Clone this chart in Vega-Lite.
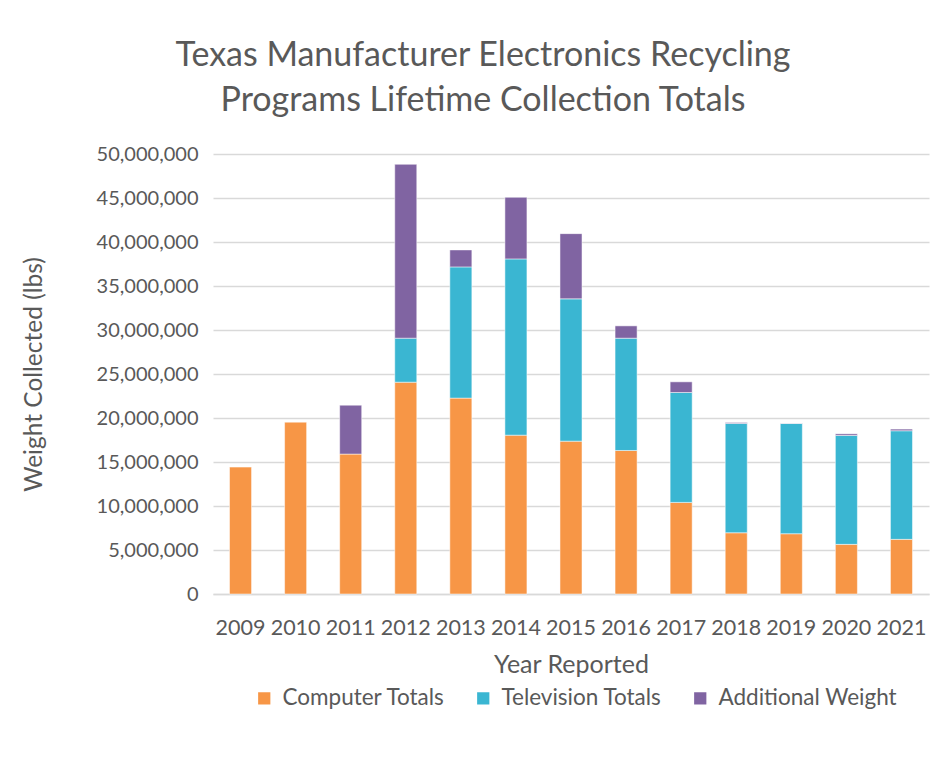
{
  "$schema": "https://vega.github.io/schema/vega-lite/v6.json",
  "autosize": {"type": "none"},
  "padding": {"left": 213, "top": 154, "right": 17, "bottom": 175},
  "width": 716,
  "height": 440,
  "background": "white",
  "title": {
    "text": ["Texas Manufacturer Electronics Recycling", "Programs Lifetime Collection Totals"],
    "anchor": "middle",
    "dx": -88,
    "fontSize": 34,
    "font": "Lato",
    "fontWeight": "normal",
    "color": "#595959",
    "lineHeight": 45,
    "offset": 26
  },
  "data": {
    "values": [
      {"year": "2009", "series": "Computer Totals", "ord": 1, "value": 14420000},
      {"year": "2010", "series": "Computer Totals", "ord": 1, "value": 19530000},
      {"year": "2011", "series": "Computer Totals", "ord": 1, "value": 15900000},
      {"year": "2011", "series": "Additional Weight", "ord": 3, "value": 5560000},
      {"year": "2012", "series": "Computer Totals", "ord": 1, "value": 24070000},
      {"year": "2012", "series": "Television Totals", "ord": 2, "value": 5000000},
      {"year": "2012", "series": "Additional Weight", "ord": 3, "value": 19760000},
      {"year": "2013", "series": "Computer Totals", "ord": 1, "value": 22260000},
      {"year": "2013", "series": "Television Totals", "ord": 2, "value": 14910000},
      {"year": "2013", "series": "Additional Weight", "ord": 3, "value": 1930000},
      {"year": "2014", "series": "Computer Totals", "ord": 1, "value": 18050000},
      {"year": "2014", "series": "Television Totals", "ord": 2, "value": 20030000},
      {"year": "2014", "series": "Additional Weight", "ord": 3, "value": 7000000},
      {"year": "2015", "series": "Computer Totals", "ord": 1, "value": 17370000},
      {"year": "2015", "series": "Television Totals", "ord": 2, "value": 16170000},
      {"year": "2015", "series": "Additional Weight", "ord": 3, "value": 7410000},
      {"year": "2016", "series": "Computer Totals", "ord": 1, "value": 16310000},
      {"year": "2016", "series": "Television Totals", "ord": 2, "value": 12760000},
      {"year": "2016", "series": "Additional Weight", "ord": 3, "value": 1400000},
      {"year": "2017", "series": "Computer Totals", "ord": 1, "value": 10410000},
      {"year": "2017", "series": "Television Totals", "ord": 2, "value": 12490000},
      {"year": "2017", "series": "Additional Weight", "ord": 3, "value": 1210000},
      {"year": "2018", "series": "Computer Totals", "ord": 1, "value": 6960000},
      {"year": "2018", "series": "Television Totals", "ord": 2, "value": 12420000},
      {"year": "2018", "series": "Additional Weight", "ord": 3, "value": 110000},
      {"year": "2019", "series": "Computer Totals", "ord": 1, "value": 6850000},
      {"year": "2019", "series": "Television Totals", "ord": 2, "value": 12530000},
      {"year": "2019", "series": "Additional Weight", "ord": 3, "value": 30000},
      {"year": "2020", "series": "Computer Totals", "ord": 1, "value": 5640000},
      {"year": "2020", "series": "Television Totals", "ord": 2, "value": 12380000},
      {"year": "2020", "series": "Additional Weight", "ord": 3, "value": 180000},
      {"year": "2021", "series": "Computer Totals", "ord": 1, "value": 6210000},
      {"year": "2021", "series": "Television Totals", "ord": 2, "value": 12340000},
      {"year": "2021", "series": "Additional Weight", "ord": 3, "value": 190000}
    ]
  },
  "mark": {"type": "bar", "stroke": "white", "strokeWidth": 0.5},
  "encoding": {
    "x": {
      "field": "year",
      "type": "ordinal",
      "title": "Year Reported",
      "scale": {"paddingInner": 0.6, "paddingOuter": 0.3},
      "axis": {
        "labelAngle": 0,
        "ticks": false,
        "domain": true,
        "domainColor": "#D9D9D9",
        "domainWidth": 1.5,
        "labelFontSize": 21.5,
        "labelPadding": 23,
        "titleFontSize": 25,
        "titlePadding": 14
      }
    },
    "y": {
      "field": "value",
      "type": "quantitative",
      "aggregate": "sum",
      "stack": "zero",
      "title": "Weight Collected (lbs)",
      "scale": {"domain": [0, 50000000]},
      "axis": {
        "values": [0, 5000000, 10000000, 15000000, 20000000, 25000000, 30000000, 35000000, 40000000, 45000000, 50000000],
        "format": ",d",
        "ticks": false,
        "domain": false,
        "labelFontSize": 20,
        "labelPadding": 15,
        "titleFontSize": 24.5,
        "titlePadding": 50,
        "gridColor": "#D9D9D9",
        "gridWidth": 1.5
      }
    },
    "color": {
      "field": "series",
      "type": "nominal",
      "sort": ["Computer Totals", "Television Totals", "Additional Weight"],
      "scale": {
        "domain": ["Computer Totals", "Television Totals", "Additional Weight"],
        "range": ["#F79646", "#3AB6D2", "#8064A2"]
      },
      "legend": {
        "title": null,
        "orient": "none",
        "legendX": 40,
        "legendY": 533,
        "direction": "horizontal",
        "symbolType": "square",
        "symbolSize": 150,
        "symbolStrokeWidth": 0,
        "symbolOpacity": 1,
        "labelFontSize": 22.5,
        "labelLimit": 400,
        "labelOffset": 7,
        "columnPadding": 27
      }
    },
    "order": {"field": "ord", "type": "quantitative"}
  },
  "config": {
    "font": "Lato",
    "view": {"stroke": null},
    "axis": {
      "labelColor": "#595959",
      "titleColor": "#595959",
      "labelFont": "Lato",
      "titleFont": "Lato",
      "titleFontWeight": "normal"
    },
    "legend": {
      "labelColor": "#595959",
      "labelFont": "Lato"
    }
  }
}
